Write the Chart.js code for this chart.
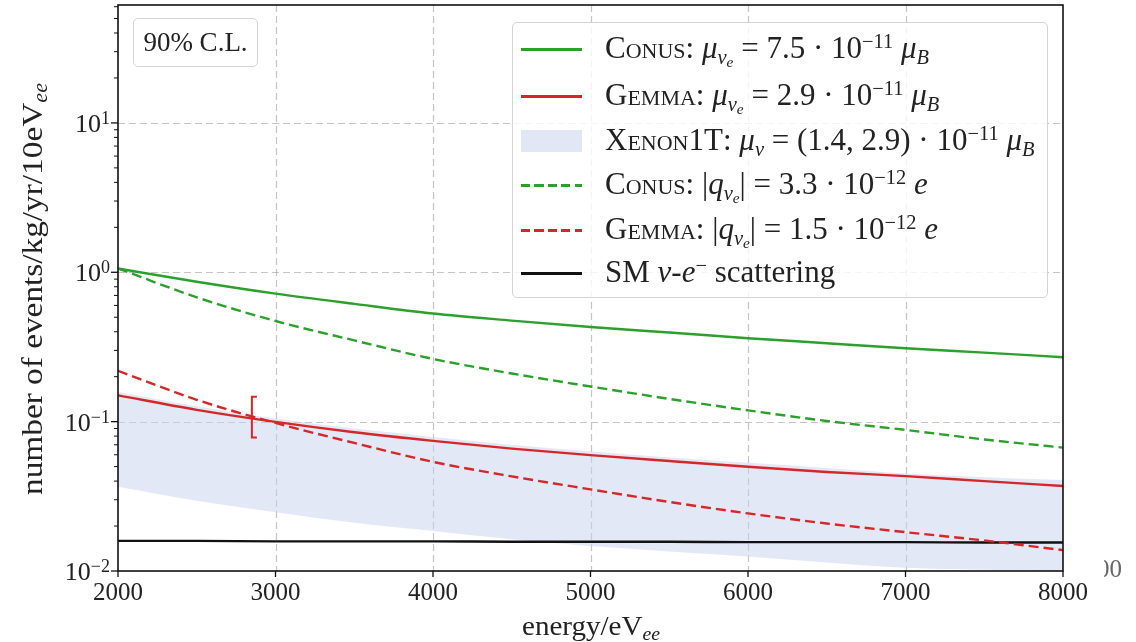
<!DOCTYPE html>
<html>
<head>
<meta charset="utf-8">
<script src="https://cdn.jsdelivr.net/npm/chart.js@4.4.1/dist/chart.umd.min.js"></script>
<style>
  html, body { margin:0; padding:0; background:#fff; }
  #wrap { position:relative; width:1136px; height:642px; overflow:hidden; font-family:'Liberation Serif', serif; color:#222; }
  canvas { position:absolute; left:0; top:0; }
  .box { position:absolute; border:1px solid #d4d4d4; border-radius:5px; background:rgba(255,255,255,0.8); box-sizing:border-box; }
  #legend { left:512px; top:22px; width:536px; height:276px; font-size:31px; }
  .row { position:absolute; left:0; width:100%; height:0; }
  .sw { position:absolute; left:8px; width:61px; }
  .txt { position:absolute; left:92px; white-space:nowrap; line-height:1; transform:translateY(-55%); }
  .sc { font-variant:small-caps; }
  sub, sup { font-size:0.66em; line-height:0; position:relative; vertical-align:baseline; }
  sub { top:0.28em; }
  sup { top:-0.5em; }
  sub sub { font-size:0.75em; top:0.2em; }
  #cl { left:133px; top:18px; width:125px; height:49px; font-size:27px; text-align:center; line-height:47px; }
  #stray { position:absolute; left:1104px; top:555px; width:18px; height:30px; overflow:hidden; font-size:25px; color:#666; }
  #stray span { position:absolute; right:0; top:0; }
</style>
</head>
<body>
<div id="wrap">
  <canvas id="c" width="1136" height="642"></canvas>
  <div id="cl" class="box">90% C.L.</div>
  <div id="legend" class="box"></div>
  <div id="stray"><span>000</span></div>
</div>
<script>
// ---------------- data ----------------
const energy       = [2000, 2500, 3000, 3500, 4000, 4500, 5000, 5500, 6000, 6500, 7000, 7500, 8000];
const conusMu      = [1.06, 0.865, 0.72, 0.615, 0.53, 0.475, 0.43, 0.395, 0.362, 0.335, 0.31, 0.29, 0.27];
const gemmaMu      = [0.150, 0.120, 0.0997, 0.085, 0.0744, 0.066, 0.0597, 0.0545, 0.0499, 0.046, 0.0432, 0.040, 0.0371];
const xenonUpper   = [0.158, 0.127, 0.105, 0.090, 0.079, 0.070, 0.063, 0.0575, 0.053, 0.049, 0.045, 0.0425, 0.0406];
const xenonLower   = [0.0366, 0.0295, 0.0247, 0.021, 0.0185, 0.0163, 0.0147, 0.0135, 0.0125, 0.0114, 0.0105, 0.0102, 0.0100];
const conusQ       = [1.06, 0.68, 0.472, 0.35, 0.263, 0.21, 0.172, 0.142, 0.119, 0.101, 0.088, 0.076, 0.067];
const gemmaQ       = [0.219, 0.14, 0.098, 0.072, 0.0538, 0.043, 0.0352, 0.029, 0.0243, 0.0208, 0.0182, 0.016, 0.0138];
const smScattering = [0.0159, 0.0159, 0.0158, 0.0158, 0.0158, 0.0157, 0.0157, 0.0157, 0.0156, 0.0156, 0.0156, 0.0155, 0.0155];
const errorBarEnergy = [2850];
const errorBarLow    = [0.0784];
const errorBarHigh   = [0.1466];

const xTickValues = [2000, 3000, 4000, 5000, 6000, 7000, 8000];
const yTickValues = [0.01, 0.1, 1, 10];
const yTickExponents = ['−2', '−1', '0', '1'];
const xMin = 2000, xMax = 8000, yMin = 0.01, yMax = 61.6;

const legendEntries = [
  {kind:'line', color:'#2ca02c', html:'<span class="sc">Conus</span>: <i>μ</i><sub><i>ν</i><sub><i>e</i></sub></sub> = 7.5 · 10<sup>−11</sup> <i>μ</i><sub><i>B</i></sub>'},
  {kind:'line', color:'#d62728', html:'<span class="sc">Gemma</span>: <i>μ</i><sub><i>ν</i><sub><i>e</i></sub></sub> = 2.9 · 10<sup>−11</sup> <i>μ</i><sub><i>B</i></sub>'},
  {kind:'band', color:'#e2e7f5', html:'<span class="sc">Xenon1T</span>: <i>μ</i><sub><i>ν</i></sub> = (1.4, 2.9) · 10<sup>−11</sup> <i>μ</i><sub><i>B</i></sub>'},
  {kind:'dash', color:'#2ca02c', html:'<span class="sc">Conus</span>: |<i>q</i><sub><i>ν</i><sub><i>e</i></sub></sub>| = 3.3 · 10<sup>−12</sup> <i>e</i>'},
  {kind:'dash', color:'#d62728', html:'<span class="sc">Gemma</span>: |<i>q</i><sub><i>ν</i><sub><i>e</i></sub></sub>| = 1.5 · 10<sup>−12</sup> <i>e</i>'},
  {kind:'line', color:'#111111', html:'SM <i>ν</i>-<i>e</i><sup>−</sup> scattering'}
];
const legendRowY = [26, 73, 118, 162, 207, 250];

// ---------------- legend (HTML) ----------------
const leg = document.getElementById('legend');
legendEntries.forEach((e, i) => {
  const row = document.createElement('div');
  row.className = 'row';
  row.style.top = legendRowY[i] + 'px';
  const sw = document.createElement('div');
  sw.className = 'sw';
  if (e.kind === 'line') {
    sw.style.height = '2.5px'; sw.style.top = '-1px'; sw.style.background = e.color;
  } else if (e.kind === 'dash') {
    sw.style.height = '2.5px'; sw.style.top = '-1px';
    sw.style.background = 'repeating-linear-gradient(90deg,' + e.color + ' 0 9px, transparent 9px 13.5px)';
  } else {
    sw.style.height = '22px'; sw.style.top = '-11px'; sw.style.background = e.color;
  }
  const tx = document.createElement('div');
  tx.className = 'txt';
  tx.innerHTML = e.html;
  row.appendChild(sw); row.appendChild(tx);
  leg.appendChild(row);
});

// ---------------- helpers ----------------
const pts = arr => energy.map((x, i) => ({x, y: arr[i]}));
const SERIF = "'Liberation Serif', serif";

function drawRich(ctx, parts, cx, baseY, targetW) {
  let w = 0;
  parts.forEach(p => { ctx.font = p.font; p.w = ctx.measureText(p.t).width; w += p.w; });
  const sx = targetW ? targetW / w : 1;
  ctx.save();
  ctx.translate(cx, baseY);
  ctx.scale(sx, 1);
  let x = -w / 2;
  ctx.textBaseline = 'alphabetic';
  ctx.textAlign = 'left';
  parts.forEach(p => { ctx.font = p.font; ctx.fillText(p.t, x, p.dy || 0); x += p.w; });
  ctx.restore();
}

const decor = {
  id: 'decor',
  beforeDatasetsDraw(chart) {
    const {ctx, chartArea: a, scales: {x, y}} = chart;
    ctx.save();
    ctx.strokeStyle = 'rgba(150,150,150,0.55)';
    ctx.lineWidth = 1.2;
    ctx.setLineDash([7, 4]);
    xTickValues.forEach(v => {
      if (v <= xMin || v >= xMax) return;
      const px = Math.round(x.getPixelForValue(v)) + 0.5;
      ctx.beginPath(); ctx.moveTo(px, a.top); ctx.lineTo(px, a.bottom); ctx.stroke();
    });
    yTickValues.forEach(v => {
      if (v <= yMin || v >= yMax) return;
      const py = Math.round(y.getPixelForValue(v)) + 0.5;
      ctx.beginPath(); ctx.moveTo(a.left, py); ctx.lineTo(a.right, py); ctx.stroke();
    });
    ctx.restore();
  },
  afterDatasetsDraw(chart) {
    const {ctx, chartArea: a, scales: {x, y}} = chart;
    ctx.save();
    // error bar
    ctx.strokeStyle = '#d62728';
    ctx.lineWidth = 2;
    errorBarEnergy.forEach((e, i) => {
      const px = x.getPixelForValue(e);
      const y1 = y.getPixelForValue(errorBarHigh[i]);
      const y2 = y.getPixelForValue(errorBarLow[i]);
      ctx.beginPath();
      ctx.moveTo(px + 5, y1); ctx.lineTo(px, y1); ctx.lineTo(px, y2); ctx.lineTo(px + 5, y2);
      ctx.stroke();
    });
    // frame
    ctx.strokeStyle = '#111';
    ctx.lineWidth = 1.6;
    ctx.strokeRect(a.left, a.top, a.right - a.left, a.bottom - a.top);
    // x ticks
    ctx.lineWidth = 1.3;
    xTickValues.forEach(v => {
      const px = x.getPixelForValue(v);
      ctx.beginPath(); ctx.moveTo(px, a.bottom); ctx.lineTo(px, a.bottom + 6); ctx.stroke();
    });
    // y ticks: decades + minors
    for (let d = -2; d <= 1; d++) {
      for (let m = 1; m <= 9; m++) {
        const v = m * Math.pow(10, d);
        if (v < yMin || v > yMax) continue;
        const py = y.getPixelForValue(v);
        const len = m === 1 ? 7 : 4;
        ctx.lineWidth = m === 1 ? 1.3 : 1;
        ctx.beginPath(); ctx.moveTo(a.left, py); ctx.lineTo(a.left - len, py); ctx.stroke();
      }
    }
    // y tick labels 10^n
    ctx.fillStyle = '#222';
    yTickValues.forEach((v, i) => {
      const py = y.getPixelForValue(v);
      ctx.font = '26px ' + SERIF;
      const wb = ctx.measureText('10').width;
      ctx.font = '18px ' + SERIF;
      const ws = ctx.measureText(yTickExponents[i]).width;
      const right = a.left - 8;
      ctx.textBaseline = 'alphabetic';
      ctx.textAlign = 'left';
      ctx.font = '26px ' + SERIF;
      ctx.fillText('10', right - ws - wb, py + 9);
      ctx.font = '18px ' + SERIF;
      ctx.fillText(yTickExponents[i], right - ws, py + 1);
    });
    // axis titles
    drawRich(ctx, [
      {t: 'energy/eV', font: '28px ' + SERIF},
      {t: 'ee', font: 'italic 19px ' + SERIF, dy: 5}
    ], 591, 635, 138);
    ctx.save();
    ctx.translate(42, 289);
    ctx.rotate(-Math.PI / 2);
    drawRich(ctx, [
      {t: 'number of events/kg/yr/10eV', font: '30px ' + SERIF},
      {t: 'ee', font: 'italic 20px ' + SERIF, dy: 5}
    ], 0, 0, 412);
    ctx.restore();
    ctx.restore();
  }
};

const lineDs = (label, data, color, dash, order) => ({
  label, data: pts(data), borderColor: color, borderWidth: 2.4, borderDash: dash || [],
  pointRadius: 0, fill: false, cubicInterpolationMode: 'monotone', order
});

new Chart(document.getElementById('c').getContext('2d'), {
  type: 'line',
  data: {
    datasets: [
      {label: 'Xenon1T upper', data: pts(xenonUpper), borderColor: 'transparent', borderWidth: 0,
       pointRadius: 0, fill: '+1', backgroundColor: 'rgba(198,209,238,0.5)', cubicInterpolationMode: 'monotone', order: 10},
      {label: 'Xenon1T lower', data: pts(xenonLower), borderColor: 'transparent', borderWidth: 0,
       pointRadius: 0, fill: false, cubicInterpolationMode: 'monotone', order: 11},
      lineDs('SM ν-e scattering', smScattering, '#111111', null, 6),
      lineDs('Gemma q', gemmaQ, '#d62728', [10, 5], 5),
      lineDs('Conus q', conusQ, '#2ca02c', [10, 5], 4),
      lineDs('Gemma μ', gemmaMu, '#d62728', null, 3),
      lineDs('Conus μ', conusMu, '#2ca02c', null, 2)
    ]
  },
  options: {
    responsive: false,
    animation: false,
    events: [],
    layout: {padding: {left: 0, top: 5, right: 73, bottom: 0}},
    plugins: {legend: {display: false}, tooltip: {enabled: false}},
    scales: {
      x: {
        type: 'linear', min: xMin, max: xMax,
        afterFit: s => { s.height = 71; },
        afterBuildTicks: s => { s.ticks = xTickValues.map(v => ({value: v})); },
        grid: {display: false, drawTicks: false},
        border: {display: false},
        ticks: {font: {family: SERIF, size: 25}, color: '#222', padding: 7, maxRotation: 0,
                callback: v => String(v)}
      },
      y: {
        type: 'logarithmic', min: yMin, max: yMax,
        afterFit: s => { s.width = 118; },
        grid: {display: false, drawTicks: false},
        border: {display: false},
        ticks: {display: false}
      }
    }
  },
  plugins: [decor]
});
</script>
</body>
</html>
